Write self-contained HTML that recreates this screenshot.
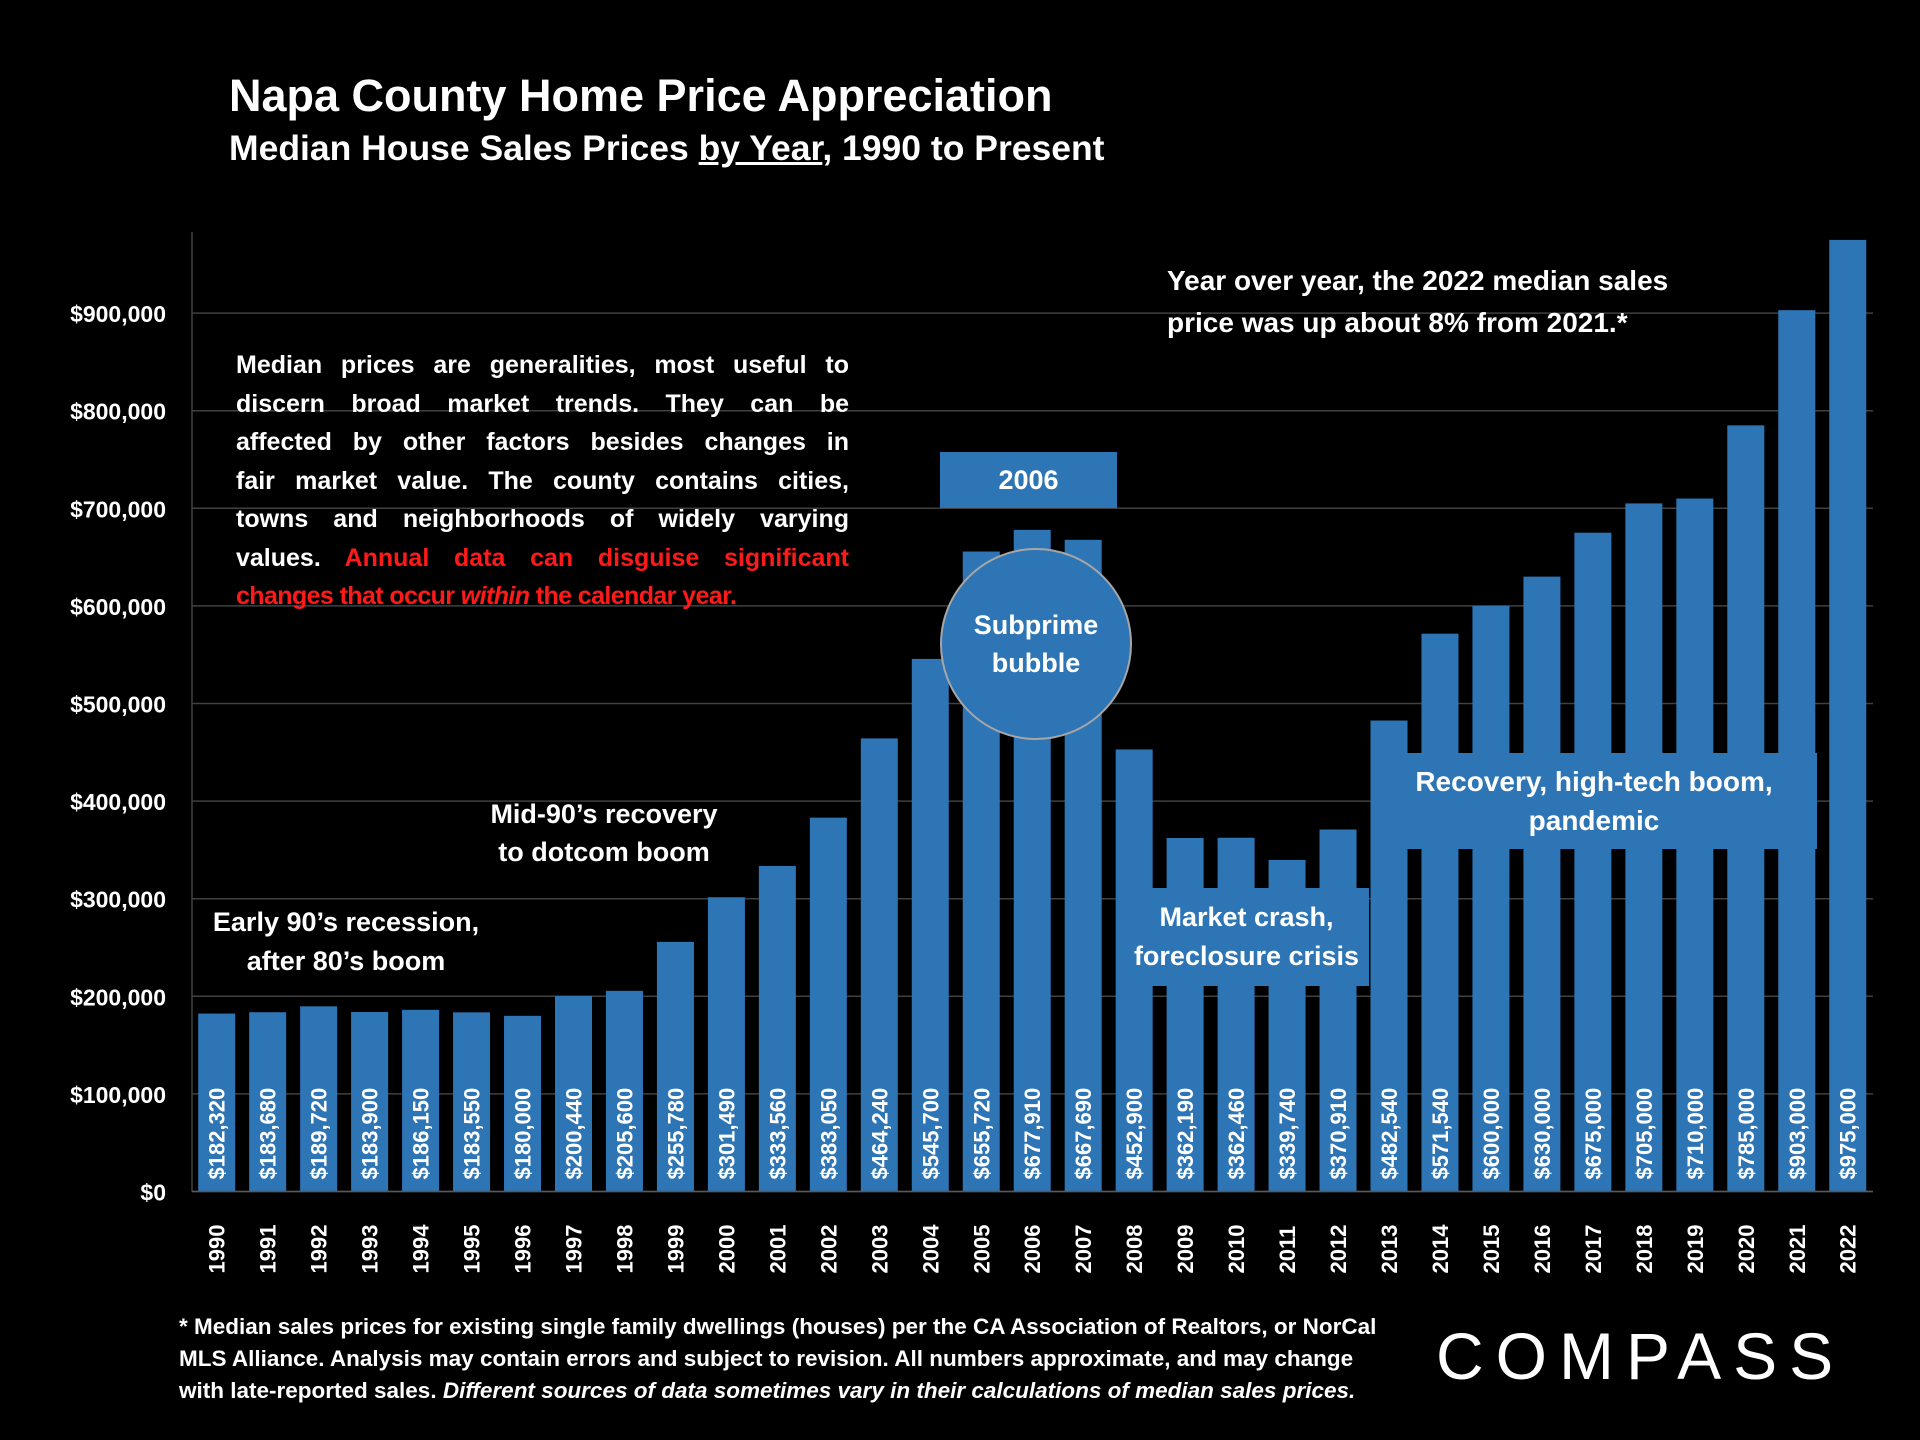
<!DOCTYPE html>
<html><head><meta charset="utf-8">
<style>
html,body{margin:0;padding:0;background:#000;}
#wrap{position:relative;width:1920px;height:1440px;background:#000;overflow:hidden;font-family:"Liberation Sans",sans-serif;color:#fff;}
.t{position:absolute;font-weight:bold;white-space:nowrap;}
.jl{text-align:justify;text-align-last:justify;white-space:nowrap;}
</style></head><body>
<div id="wrap">
<div class="t" style="left:229px;top:70px;font-size:45px;">Napa County Home Price Appreciation</div>
<div class="t" style="left:229px;top:128px;font-size:35.5px;">Median House Sales Prices <u>by Year</u>, 1990 to Present</div>
<svg id="chart" width="1920" height="1440" style="position:absolute;left:0;top:0"></svg>
<div style="position:absolute;left:236px;top:346px;width:613px;font-size:25px;font-weight:bold;line-height:38.5px;">
<div class="jl">Median prices are generalities, most useful to</div>
<div class="jl">discern broad market trends. They can be</div>
<div class="jl">affected by other factors besides changes in</div>
<div class="jl">fair market value. The county contains cities,</div>
<div class="jl">towns and neighborhoods of widely varying</div>
<div class="jl">values. <span style="color:#ff1a1a">Annual data can disguise significant</span></div>
<div style="color:#ff1a1a;white-space:nowrap;letter-spacing:-0.6px">changes that occur <i>within</i> the calendar year.</div>
</div>
<div class="t" style="left:1167px;top:260px;font-size:28px;line-height:42px;">Year over year, the 2022 median sales<br>price was up about 8% from 2021.*</div>
<div class="t" style="left:196px;top:903px;width:300px;text-align:center;font-size:27px;line-height:39px;">Early 90’s recession,<br>after 80’s boom</div>
<div class="t" style="left:454px;top:795px;width:300px;text-align:center;font-size:27px;line-height:38px;">Mid-90’s recovery<br>to dotcom boom</div>
<div class="t" style="left:940px;top:452px;width:177px;height:56px;background:#2e75b6;text-align:center;line-height:56px;font-size:27px;">2006</div>
<div class="t" style="left:940px;top:548px;width:188px;height:188px;border-radius:50%;background:#2e75b6;border:2px solid #a6a6a6;text-align:center;font-size:27px;line-height:38px;display:flex;align-items:center;justify-content:center;">Subprime<br>bubble</div>
<div class="t" style="left:1124px;top:888px;width:245px;height:98px;background:#2e75b6;text-align:center;font-size:27px;line-height:39px;display:flex;align-items:center;justify-content:center;">Market crash,<br>foreclosure crisis</div>
<div class="t" style="left:1371px;top:753px;width:446px;height:96px;background:#2e75b6;text-align:center;font-size:28px;line-height:39px;display:flex;align-items:center;justify-content:center;">Recovery, high-tech boom,<br>pandemic</div>
<div style="position:absolute;left:179px;top:1311px;font-size:22.5px;font-weight:bold;line-height:32px;white-space:nowrap;">* Median sales prices for existing single family dwellings (houses) per the CA Association of Realtors, or NorCal<br>MLS Alliance. Analysis may contain errors and subject to revision. All numbers approximate, and may change<br>with late-reported sales. <i>Different sources of data sometimes vary in their calculations of median sales prices.</i></div>
<div class="t" style="left:1436px;top:1318px;font-size:66px;font-weight:normal;letter-spacing:12px;">COMPASS</div>
</div>
<script>
const years=["1990","1991","1992","1993","1994","1995","1996","1997","1998","1999","2000","2001","2002","2003","2004","2005","2006","2007","2008","2009","2010","2011","2012","2013","2014","2015","2016","2017","2018","2019","2020","2021","2022"];
const prices=[182320,183680,189720,183900,186150,183550,180000,200440,205600,255780,301490,333560,383050,464240,545700,655720,677910,667690,452900,362190,362460,339740,370910,482540,571540,600000,630000,675000,705000,710000,785000,903000,975000];
const yTicks=[0,100000,200000,300000,400000,500000,600000,700000,800000,900000];
const svg=document.getElementById('chart');
const NS='http://www.w3.org/2000/svg';
const x0=192,x1=1873,y0=1191.5,pxPer=97.6/100000;
const step=50.97,firstC=216.7,bw=37;
function yS(v){return y0-v*pxPer;}
function xS(i){return firstC+i*step;}
function mk(t,a){const e=document.createElementNS(NS,t);for(const k in a)e.setAttribute(k,a[k]);svg.appendChild(e);return e;}
function fmt(v){return '$'+v.toLocaleString('en-US');}
yTicks.forEach(v=>{
  const l=mk('line',{x1:x0,x2:x1,y1:yS(v),y2:yS(v),stroke:'#404040','stroke-width':1.5});
  
  
  const t=mk('text',{x:166,y:yS(v)+9,'text-anchor':'end','font-size':23,'font-weight':'bold',fill:'#fff','font-family':'Liberation Sans, sans-serif'});
  t.textContent=fmt(v);
  
  
});
const ax=mk('line',{x1:x0,x2:x0,y1:232,y2:y0,stroke:'#404040','stroke-width':1.5});


prices.forEach((v,i)=>{
  const r=mk('rect',{x:xS(i)-bw/2,y:yS(v),width:bw,height:y0-yS(v),fill:'#2e75b6'});
  
  
  const t=mk('text',{transform:`translate(${xS(i)+8},${y0-12}) rotate(-90)`,'font-size':22,'font-weight':'bold',fill:'#fff','font-family':'Liberation Sans, sans-serif'});
  t.textContent=fmt(v);
  
  
  const y=mk('text',{transform:`translate(${xS(i)+8},${y0+82}) rotate(-90)`,'font-size':22,'font-weight':'bold',fill:'#fff','font-family':'Liberation Sans, sans-serif'});
  y.textContent=years[i];
  
  
});
const bx=mk('line',{x1:x0,x2:x1,y1:y0,y2:y0,stroke:'#595959','stroke-width':1.5});


</script>
</body></html>
